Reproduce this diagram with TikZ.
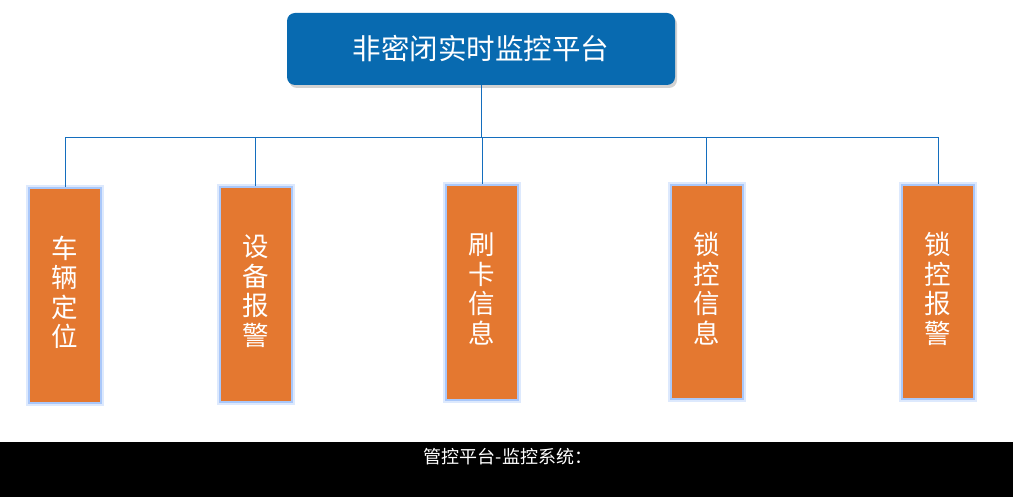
\documentclass[tikz,border=0pt]{standalone}
\usepackage{fontspec}
\setmainfont{Noto Sans CJK SC}
\usetikzlibrary{shadows}
\definecolor{topblue}{RGB}{8,106,176}
\definecolor{itemorange}{RGB}{228,120,48}
\definecolor{glowblue}{RGB}{170,200,250}
\definecolor{linkblue}{RGB}{20,110,190}
\tikzset{
  topbox/.style={draw=none,fill=topblue,rounded corners=8pt,minimum width=388pt,
    minimum height=72pt,inner sep=0pt,text=white,font=\fontsize{28.5}{30}\selectfont,
    drop shadow={shadow xshift=2pt,shadow yshift=-3pt,opacity=0.35}},
  itembox/.style={fill=itemorange,draw=glowblue,line width=2pt,minimum width=72pt,
    minimum height=214pt,inner sep=0pt,text=white,align=center,
    font=\fontsize{26.5}{29.5}\selectfont,
    preaction={draw=glowblue,line width=6pt,opacity=0.4}},
  link/.style={draw=linkblue,line width=1pt}
}
\begin{document}
\begin{tikzpicture}[x=1pt,y=-1pt]
\useasboundingbox (0,0) rectangle (1013,497);
\fill[white] (0,0) rectangle (1013,442);
\fill[black] (0,442) rectangle (1013,497);

% platform
\node[topbox] (top) at (481,49) {非密闭实时监控平台};

% functions
\node[itembox] (c1) at (65,295.5) {车\\辆\\定\\位\\[-21pt]};
\node[itembox] (c2) at (255.5,294.5) {设\\备\\报\\警\\[-21pt]};
\node[itembox] (c3) at (482,292.5) {刷\\卡\\信\\息\\[-21pt]};
\node[itembox] (c4) at (706.5,292) {锁\\控\\信\\息\\[-21pt]};
\node[itembox] (c5) at (938,292) {锁\\控\\报\\警\\[-21pt]};

% links
\coordinate (hub) at (481,138);
\draw[link] (top.south) -- (hub);
\foreach \c in {c1,c2,c3,c4,c5}
  \draw[link] (hub) -| (\c.north);

\node[text=white,font=\fontsize{18}{20}\selectfont] (cap) at (508,457) {管控平台-监控系统：};
\end{tikzpicture}
\end{document}
